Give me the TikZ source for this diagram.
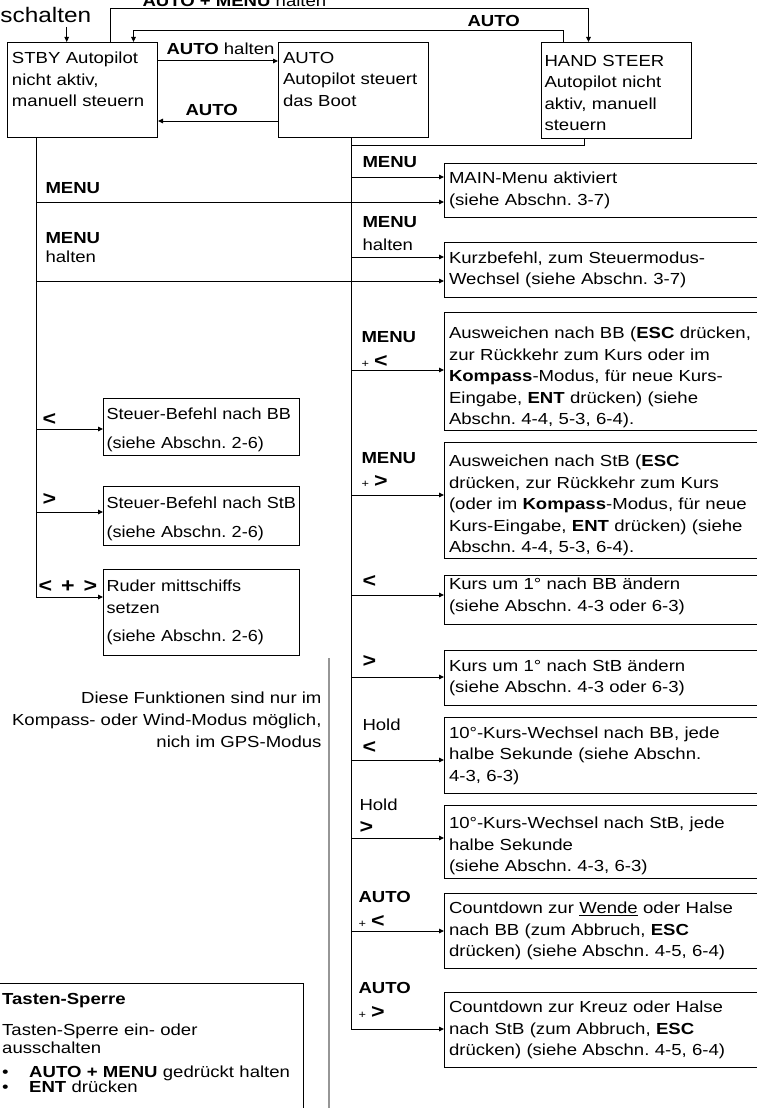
\documentclass[tikz,border=0pt]{standalone}
\usepackage{fontspec}
\setmainfont{Liberation Sans}[FakeStretch=1.16]
\newfontfamily\narrowfont{Liberation Sans}[FakeStretch=1.13]
\usetikzlibrary{arrows.meta}
\frenchspacing

\definecolor{sepgray}{RGB}{150,150,150}
\newcommand\kleft{{\fontsize{20}{20}\selectfont\bfseries <}}
\newcommand\kright{{\fontsize{20}{20}\selectfont\bfseries >}}
\newcommand\kplus{{\fontsize{11}{11}\selectfont\mdseries +}}
\newcommand\topgap[1]{\rule{0pt}{#1}}

\begin{document}
\begin{tikzpicture}[x=1pt, y=-1pt, line width=1pt,
  every node/.style={font=\fontsize{16}{21.5}\selectfont},
  arr/.style={-{Triangle[length=5pt,width=4.5pt]}},
  box/.style={draw, anchor=north west, align=left, inner xsep=4.5pt, inner ysep=0pt},
  tbox/.style={box, minimum width=150pt, text width=141pt},
  lbox/.style={box, inner xsep=3pt, minimum width=196pt, text width=190pt, font=\narrowfont\fontsize{16}{21.5}\selectfont},
  rbox/.style={box, minimum width=336pt, text width=327pt},
  key/.style={anchor=base west, align=left, inner sep=0pt, font=\fontsize{16}{24}\selectfont\bfseries},
  txt/.style={anchor=base west, inner sep=0pt}]

\useasboundingbox (0,0) rectangle (757,1108);
\clip (0,0) rectangle (757,1108);

% Betriebsarten
\node[tbox, minimum height=95pt] (stby) at (7,42) {STBY Autopilot\\nicht aktiv,\\manuell steuern\\\mbox{}};
\node[tbox, minimum height=95pt] (auto) at (278,42) {AUTO\\Autopilot steuert\\das Boot\\\mbox{}};
\node[tbox, minimum height=96pt, inner xsep=2.5pt, text width=144pt] (hand) at (541,42) {\topgap{16pt}HAND STEER\\Autopilot nicht\\aktiv, manuell\\steuern};

\node[txt, font=\fontsize{21}{21}\selectfont] (schalten) at (0,22.5) {schalten};
\node[txt] (amh) at (142,6.5) {\textbf{AUTO + MENU} halten};
\node[txt] (auto1) at (467,27) {\textbf{AUTO}};
\node[txt] (auto2) at (166,55) {\textbf{AUTO} halten};
\node[txt] (auto3) at (185,115) {\textbf{AUTO}};

\coordinate (ein) at (66.7,27);
\draw[arr] (ein) -- (ein |- stby.north);
\draw[arr] ([xshift=28pt]stby.north) |- ([xshift=-28pt,yshift=33pt]hand.north) -- ([xshift=-28pt]hand.north);
\draw[arr] ([xshift=-53pt]hand.north) |- ([xshift=51pt,yshift=11pt]stby.north) -- ([xshift=51pt]stby.north);
\draw[arr] ([yshift=-19pt]stby.north east) -- ([yshift=-19pt]auto.north west);
\draw[arr] ([yshift=-79pt]auto.north west) -- ([yshift=-79pt]stby.north east);

% Funktionen im AUTO-Modus
\node[rbox, minimum height=54pt] (mainmenu) at (444,163) {MAIN-Menu aktiviert\\(siehe Abschn. 3-7)};
\node[rbox, minimum height=55pt] (kurz) at (444,242) {Kurzbefehl, zum Steuermodus-\\Wechsel (siehe Abschn. 3-7)};
\node[rbox, minimum height=118pt] (ausbb) at (444,312) {\topgap{23.5pt}Ausweichen nach BB (\textbf{ESC} drücken,\\zur Rückkehr zum Kurs oder im\\\textbf{Kompass}-Modus, für neue Kurs-\\Eingabe, \textbf{ENT} drücken) (siehe\\Abschn. 4-4, 5-3, 6-4).};
\node[rbox, minimum height=116pt] (ausstb) at (444,442) {\topgap{21.5pt}Ausweichen nach StB (\textbf{ESC}\\drücken, zur Rückkehr zum Kurs\\(oder im \textbf{Kompass}-Modus, für neue\\Kurs-Eingabe, \textbf{ENT} drücken) (siehe\\Abschn. 4-4, 5-3, 6-4).};
\node[rbox, minimum height=49pt] (kursbb) at (444,575) {Kurs um 1° nach BB ändern\\(siehe Abschn. 4-3 oder 6-3)\rule[-11pt]{0pt}{1pt}};
\node[rbox, minimum height=55pt] (kursstb) at (444,650) {Kurs um 1° nach StB ändern\\(siehe Abschn. 4-3 oder 6-3)};
\node[rbox, minimum height=76pt] (zehnbb) at (444,717) {10°-Kurs-Wechsel nach BB, jede\\halbe Sekunde (siehe Abschn.\\4-3, 6-3)};
\node[rbox, minimum height=73pt] (zehnstb) at (444,805) {\topgap{19.5pt}10°-Kurs-Wechsel nach StB, jede\\halbe Sekunde\\(siehe Abschn. 4-3, 6-3)};
\node[rbox, minimum height=75pt] (cdbb) at (444,893) {Countdown zur \underline{Wende} oder Halse\\nach BB (zum Abbruch, \textbf{ESC}\\drücken) (siehe Abschn. 4-5, 6-4)};
\node[rbox, minimum height=75pt] (cdstb) at (444,992) {Countdown zur Kreuz oder Halse\\nach StB (zum Abbruch, \textbf{ESC}\\drücken) (siehe Abschn. 4-5, 6-4)};

% Funktionen im STBY-Modus
\node[lbox, minimum height=57pt] (steuerbb) at (103,398) {\topgap{17pt}Steuer-Befehl nach BB\\[7pt](siehe Abschn. 2-6)};
\node[lbox, minimum height=59pt] (steuerstb) at (103,486) {\topgap{17pt}Steuer-Befehl~nach~StB\\[7pt](siehe Abschn. 2-6)};
\node[lbox, minimum height=86pt] (ruder) at (103,569) {Ruder mittschiffs\\setzen\\[7pt](siehe Abschn. 2-6)};

% Tasten
\node[key] (kmenu1) at (45,193) {MENU};
\node[key] (kmenu2) at (45,262) {MENU\\[-5pt]{\mdseries halten}};
\node[key] (klt1) at (42,425) {\kleft};
\node[key] (kgt1) at (42,505) {\kright};
\node[key] (kboth) at (38,592) {{\fontsize{20}{20}\selectfont <\hspace{9pt}+\hspace{9pt}>}};

\node[key] (kmenu3) at (362,167) {MENU};
\node[key] (kmenu4) at (362,250) {MENU\\[-1pt]{\mdseries halten}};
\node[key] (kmenu5) at (361,367) {MENU\\[1pt]\kplus\ \kleft};
\node[key] (kmenu6) at (361,487) {MENU\\\kplus\ \kright};
\node[key] (klt2) at (362,587) {\kleft};
\node[key] (kgt2) at (362,667) {\kright};
\node[key] (khold1) at (362,753) {{\mdseries Hold}\\[-1pt]\kleft};
\node[key] (khold2) at (359,833) {{\mdseries Hold}\\[-1pt]\kright};
\node[key] (kauto1) at (358,927) {AUTO\\[1pt]\kplus\ \kleft};
\node[key] (kauto2) at (358,1018) {AUTO\\[1pt]\kplus\ \kright};

% Verzweigungen
\coordinate (l1) at (36,202);
\coordinate (l2) at (36,281);
\coordinate (l3) at (36,429);
\coordinate (l4) at (36,512);
\coordinate (l5) at (36,597);
\coordinate (r0) at (351,145);
\coordinate (r1) at (351,177);
\coordinate (r2) at (351,257);
\coordinate (r3) at (351,370);
\coordinate (r4) at (351,495);
\coordinate (r5) at (351,595);
\coordinate (r6) at (351,677);
\coordinate (r7) at (351,760);
\coordinate (r8) at (351,838);
\coordinate (r9) at (351,931);
\coordinate (r10) at (351,1029);

\draw (stby.south -| l1) -- (l5);
\draw (auto.south -| r1) -- (r10);
\draw ([xshift=-32pt]hand.south) |- (r0);

\draw[arr] (l1) -- (l1 -| mainmenu.west);
\draw[arr] (l2) -- (l2 -| kurz.west);
\draw[arr] (l3) -- (l3 -| steuerbb.west);
\draw[arr] (l4) -- (l4 -| steuerstb.west);
\draw[arr] (l5) -- (l5 -| ruder.west);

\draw[arr] (r1) -- (r1 -| mainmenu.west);
\draw[arr] (r2) -- (r2 -| kurz.west);
\draw[arr] (r3) -- (r3 -| ausbb.west);
\draw[arr] (r4) -- (r4 -| ausstb.west);
\draw[arr] (r5) -- (r5 -| kursbb.west);
\draw[arr] (r6) -- (r6 -| kursstb.west);
\draw[arr] (r7) -- (r7 -| zehnbb.west);
\draw[arr] (r8) -- (r8 -| zehnstb.west);
\draw[arr] (r9) -- (r9 -| cdbb.west);
\draw[arr] (r10) -- (r10 -| cdstb.west);

% Hinweis und Tasten-Sperre
\node[anchor=base east, align=right, inner sep=0pt, font=\fontsize{16}{22}\selectfont] (hinweis) at (322,747) {Diese Funktionen sind nur im\\Kompass- oder Wind-Modus möglich,\\nich im GPS-Modus};
\draw[sepgray, line width=1.2pt] (329,658) -- (329,1115);

\node[draw, anchor=north west, align=left, inner xsep=11.7pt, inner ysep=9.5pt, text width=290pt, font=\fontsize{16}{18}\selectfont] (tasten) at (-10,983) {\textbf{Tasten-Sperre}\\[13pt]Tasten-Sperre ein- oder\\ausschalten\\[6pt]\makebox[27pt][l]{•}\textbf{AUTO + MENU} gedrückt halten\\[-3pt]\makebox[27pt][l]{•}\textbf{ENT} drücken\\[30pt]\mbox{}};

\end{tikzpicture}
\end{document}
